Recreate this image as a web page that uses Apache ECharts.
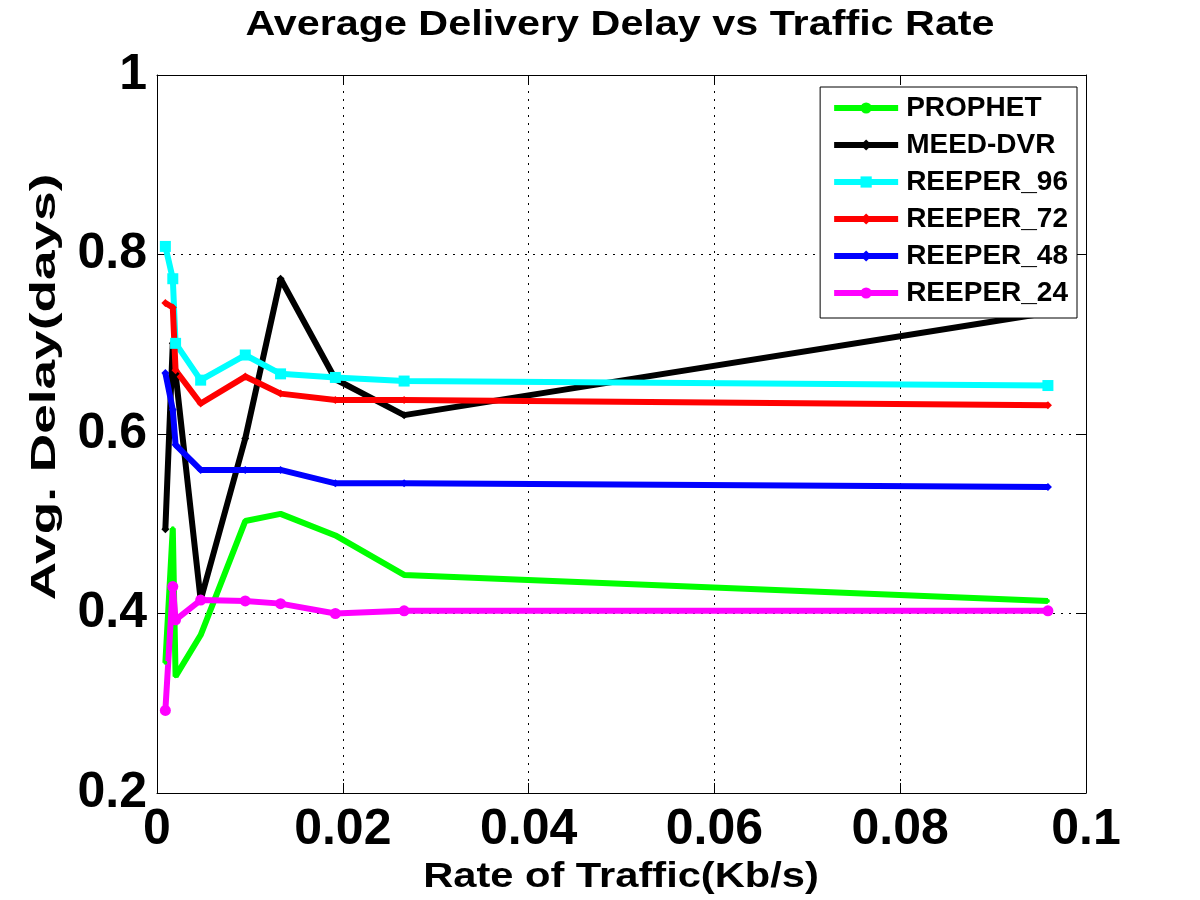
<!DOCTYPE html>
<html>

<head>
    <meta charset="utf-8">
    <script src="https://cdn.jsdelivr.net/npm/echarts@6/dist/echarts.min.js"></script>
    <style>
        html, body { margin: 0; padding: 0; background: #fff; }
        #main { width: 1200px; height: 900px; }
    </style>
</head>

<body>
    <div id="main"></div>
    <script type="text/javascript">

        // traffic rates (Kb/s)
        var rates = [0.0009, 0.0017, 0.0020, 0.0047, 0.0095, 0.0133, 0.0192, 0.0266, 0.0959];

        var prophet  = [0.345, 0.495, 0.330, 0.376, 0.503, 0.511, 0.487, 0.443, 0.414];
        var meedDvr  = [0.494, 0.701, 0.667, 0.415, 0.595, 0.773, 0.661, 0.621, 0.735];
        var reeper96 = [0.809, 0.773, 0.701, 0.660, 0.688, 0.667, 0.663, 0.659, 0.654];
        var reeper72 = [0.746, 0.741, 0.671, 0.634, 0.664, 0.645, 0.638, 0.638, 0.632];
        var reeper48 = [0.668, 0.627, 0.588, 0.560, 0.560, 0.560, 0.545, 0.545, 0.541];
        var reeper24 = [0.292, 0.430, 0.393, 0.415, 0.414, 0.411, 0.400, 0.403, 0.403];

        var xTicks = ['0', '0.02', '0.04', '0.06', '0.08', '0.1'];
        var yTicks = ['0.2', '0.4', '0.6', '0.8', '1'];

        function pairs(ys) {
            return rates.map(function (x, i) { return [x, ys[i]]; });
        }

        var font = 'Liberation Sans, Arial, sans-serif';

        function mkSeries(name, ys, color, symbol, size) {
            return {
                name: name,
                type: 'line',
                data: pairs(ys),
                symbol: symbol,
                symbolSize: size,
                lineStyle: { color: color, width: 6 },
                itemStyle: { color: color },
                emphasis: { disabled: true },
                z: 3
            };
        }

        var series = [
            mkSeries('PROPHET', prophet, '#00ff00', 'circle', 4),
            mkSeries('MEED-DVR', meedDvr, '#000000', 'diamond', 8),
            mkSeries('REEPER_96', reeper96, '#00ffff', 'rect', 11),
            mkSeries('REEPER_72', reeper72, '#ff0000', 'diamond', 8),
            mkSeries('REEPER_48', reeper48, '#0000ff', 'diamond', 8),
            mkSeries('REEPER_24', reeper24, '#ff00ff', 'circle', 11)
        ];

        var gridLine = { show: true, lineStyle: { color: '#000', width: 1, type: [2, 6] } };
        var axisLine = { show: true, onZero: false, lineStyle: { color: '#000', width: 1 } };
        var tick = { show: true, inside: true, length: 10, lineStyle: { color: '#000', width: 1 } };

        // MATLAB style wide bold text, stretched along its run
        function label(text, x, y, size, stretch, rot) {
            return {
                type: 'text',
                x: x, y: y,
                rotation: rot || 0,
                scaleX: stretch,
                style: {
                    text: text,
                    fontFamily: font, fontWeight: 'bold', fontSize: size, fill: '#000',
                    align: 'center', verticalAlign: 'middle'
                }
            };
        }

        var option = {
            backgroundColor: '#fff',
            animation: false,
            graphic: [
                label('Average Delivery Delay vs Traffic Rate', 620, 25, 35, 1.18),
                label('Rate of Traffic(Kb/s)', 621, 877, 35, 1.19),
                label('Avg. Delay(days)', 45, 387, 35, 1.52, Math.PI / 2)
            ],
            legend: {
                orient: 'vertical',
                right: 123,
                top: 87,
                backgroundColor: '#fff',
                borderColor: '#000',
                borderWidth: 1,
                padding: [7, 9, 11, 11],
                itemWidth: 64,
                itemHeight: 14,
                itemGap: 9,
                align: 'left',
                lineStyle: { width: 6 },
                textStyle: { fontFamily: font, fontWeight: 'bold', fontSize: 28, color: '#000', padding: [0, 0, 0, 3] },
                data: series.map(function (s) { return s.name; })
            },
            grid: { left: 157, right: 114, top: 75, bottom: 107, containLabel: false, outerBoundsMode: 'none' },
            xAxis: [{
                type: 'value',
                min: 0, max: 0.1, interval: 0.02,
                axisLine: axisLine,
                axisTick: tick,
                splitLine: gridLine,
                axisLabel: {
                    margin: 12,
                    fontFamily: font, fontWeight: 'bold', fontSize: 50, color: '#000',
                    formatter: function (v) { return xTicks[Math.round(v / 0.02)]; }
                }
            }, {
                type: 'value',
                position: 'top',
                min: 0, max: 0.1, interval: 0.02,
                axisLine: axisLine,
                axisTick: tick,
                splitLine: { show: false },
                axisLabel: { show: false }
            }],
            yAxis: [{
                type: 'value',
                min: 0.2, max: 1, interval: 0.2,
                axisLine: axisLine,
                axisTick: tick,
                splitLine: gridLine,
                axisLabel: {
                    margin: 10,
                    fontFamily: font, fontWeight: 'bold', fontSize: 50, color: '#000',
                    formatter: function (v) { return yTicks[Math.round((v - 0.2) / 0.2)]; }
                }
            }, {
                type: 'value',
                position: 'right',
                min: 0.2, max: 1, interval: 0.2,
                axisLine: axisLine,
                axisTick: tick,
                splitLine: { show: false },
                axisLabel: { show: false }
            }],
            series: series
        };

        var myChart = echarts.init(document.getElementById('main'));
        myChart.setOption(option);
    </script>
</body>

</html>
